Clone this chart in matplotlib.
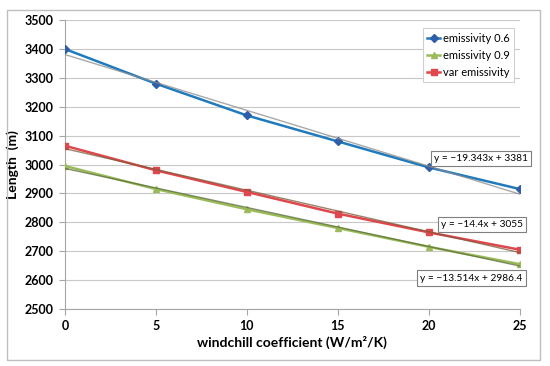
import numpy as np
import matplotlib.pyplot as plt
from matplotlib.patches import Rectangle

plt.rcParams['font.family'] = ['Lato', 'DejaVu Sans']

# data
windchill = [0, 5, 10, 15, 20, 25]
len_e06 = [3400, 3280, 3170, 3080, 2990, 2915]
len_e09 = [2995, 2915, 2845, 2780, 2715, 2655]
len_var = [3065, 2980, 2905, 2830, 2765, 2705]

# linear trendlines as printed on the chart (slope, intercept)
trend_slopes = [-19.343, -13.514, -14.4]
trend_inters = [3381, 2986.4, 3055]
trend_labels = ['y = \u221219.343x + 3381', 'y = \u221213.514x + 2986.4', 'y = \u221214.4x + 3055']

fig = plt.figure(figsize=(5.5, 3.66), dpi=100)
ax = fig.add_axes([0.118, 0.156, 0.827, 0.789])

# outer chart border
fig.patches.append(Rectangle((7 / 550, 6 / 366), 533 / 550, 350 / 366, transform=fig.transFigure,
                             fill=False, edgecolor='#bfbfbf', linewidth=1))

ax.plot(windchill, len_e06, color='#1f7bbd', marker='D', markersize=4, mfc='#2e5fa8', mec='#2e5fa8',
        linewidth=1.8, label='emissivity 0.6', zorder=3)
ax.plot(windchill, len_e09, color='#9bbb59', marker='^', markersize=5, linewidth=1.8,
        label='emissivity 0.9', zorder=3)
ax.plot(windchill, len_var, color='#e0474c', marker='s', markersize=5, linewidth=1.8,
        label='var emissivity', zorder=3)

xt = np.array([0, 25])
trend_colors = ['#8c8c8c', '#5a6a3a', '#7a5a3a']
for k in range(3):
    ax.plot(xt, trend_slopes[k] * xt + trend_inters[k], color=trend_colors[k], linewidth=1,
            alpha=0.75, zorder=4)

box = dict(boxstyle='square,pad=0.3', fc='white', ec='#7f7f7f', lw=0.8)
ax.text(22.85, 3022, trend_labels[0], fontsize=7.3, ha='center', va='center', bbox=box, zorder=5)
ax.text(22.35, 2607, trend_labels[1], fontsize=7.3, ha='center', va='center', bbox=box, zorder=5)
ax.text(22.9, 2791, trend_labels[2], fontsize=7.3, ha='center', va='center', bbox=box, zorder=5)

ax.set_xlim(0, 25)
ax.set_ylim(2500, 3500)
ax.set_xticks(windchill)
ax.set_yticks(np.arange(2500, 3501, 100))
ax.grid(axis='y', color='#c8c8c8', linewidth=0.8)
ax.set_axisbelow(True)
for s in ['top', 'right']:
    ax.spines[s].set_visible(False)
for s in ['left', 'bottom']:
    ax.spines[s].set_color('#a6a6a6')
ax.tick_params(axis='both', direction='out', length=4, color='#a6a6a6', labelsize=9, pad=4)
for lab in ax.get_xticklabels() + ax.get_yticklabels():
    lab.set_fontweight('bold')

ax.set_xlabel('windchill coefficient (W/m\u00b2/K)', fontsize=10, fontweight='bold', labelpad=3)
ax.set_ylabel('Length  (m)', fontsize=10, fontweight='bold', labelpad=4)

leg = ax.legend(loc='upper right', bbox_to_anchor=(0.987, 0.972), borderaxespad=0, fontsize=8,
                handlelength=1.2, handletextpad=0.2, borderpad=0.4, labelspacing=0.55,
                fancybox=False, edgecolor='#d0d0d0', framealpha=1)
leg.get_frame().set_linewidth(0.8)

fig.savefig('out.png', dpi=100)
